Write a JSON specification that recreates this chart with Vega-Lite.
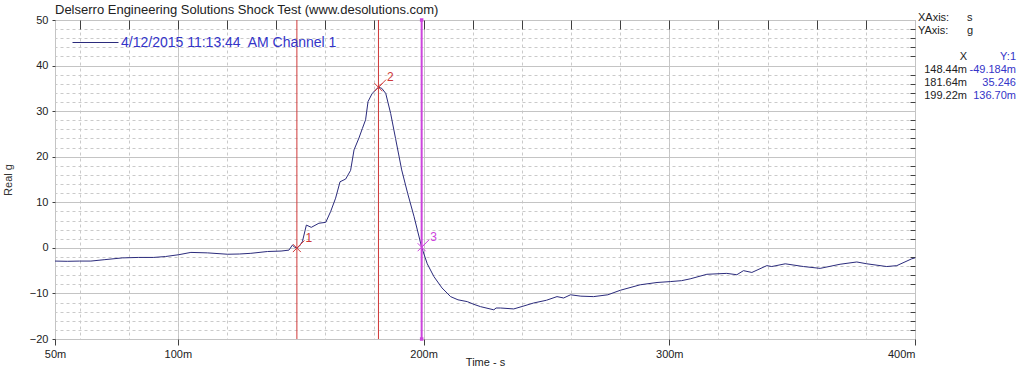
{
  "$schema": "https://vega.github.io/schema/vega-lite/v6.json",
  "autosize": {"type": "none"},
  "padding": {"left": 55, "top": 20, "right": 109, "bottom": 34},
  "width": 860,
  "height": 319,
  "background": "white",
  "config": {
    "font": "Liberation Sans",
    "view": {"stroke": "#808080"},
    "axis": {"labelFont": "Liberation Sans", "titleFont": "Liberation Sans"}
  },
  "title": {
    "text": "Delserro Engineering Solutions Shock Test (www.desolutions.com)",
    "anchor": "start",
    "frame": "group",
    "offset": -5,
    "fontSize": 13,
    "fontWeight": "normal",
    "color": "#222222",
    "font": "Liberation Sans"
  },
  "datasets": {
    "signal": [
      {"t": 50, "g": -2.9}, {"t": 55, "g": -2.95}, {"t": 60, "g": -2.9}, {"t": 64.6, "g": -2.9},
      {"t": 70, "g": -2.6}, {"t": 77.5, "g": -2.2}, {"t": 84, "g": -2.1}, {"t": 90.2, "g": -2.1},
      {"t": 95, "g": -1.9}, {"t": 100.4, "g": -1.5}, {"t": 105.3, "g": -1.0}, {"t": 112, "g": -1.1},
      {"t": 120.2, "g": -1.4}, {"t": 125, "g": -1.35}, {"t": 129.7, "g": -1.2}, {"t": 136.5, "g": -0.8},
      {"t": 142, "g": -0.7}, {"t": 145.2, "g": -0.5}, {"t": 146.6, "g": 0.6}, {"t": 147.4, "g": 0.2},
      {"t": 148.44, "g": -0.05}, {"t": 149.5, "g": 0.4}, {"t": 150.7, "g": 1.4}, {"t": 152.3, "g": 5.0},
      {"t": 154.3, "g": 4.5}, {"t": 157.4, "g": 5.4}, {"t": 160.2, "g": 5.6}, {"t": 162.2, "g": 8.0},
      {"t": 164.2, "g": 10.9}, {"t": 166, "g": 14.5}, {"t": 168.3, "g": 15.1}, {"t": 170.3, "g": 17.0},
      {"t": 171.7, "g": 21.5}, {"t": 173.7, "g": 24.1}, {"t": 175.1, "g": 26.2}, {"t": 176.4, "g": 28.1},
      {"t": 177.4, "g": 32.1}, {"t": 179.1, "g": 33.9}, {"t": 181.64, "g": 35.246}, {"t": 183, "g": 35.0},
      {"t": 184.6, "g": 33.9}, {"t": 186.6, "g": 29.5}, {"t": 188.6, "g": 24.0}, {"t": 191.1, "g": 17.1},
      {"t": 193.5, "g": 12.0}, {"t": 196.1, "g": 6.9}, {"t": 199.22, "g": 0.137}, {"t": 201.5, "g": -3.5},
      {"t": 204.2, "g": -6.3}, {"t": 207.5, "g": -8.8}, {"t": 211, "g": -10.7}, {"t": 214, "g": -11.4},
      {"t": 217.8, "g": -11.8}, {"t": 220.5, "g": -12.4}, {"t": 223.2, "g": -12.9}, {"t": 228.6, "g": -13.6},
      {"t": 229.5, "g": -13.2}, {"t": 231.3, "g": -13.2}, {"t": 236.7, "g": -13.4}, {"t": 240.5, "g": -12.8},
      {"t": 244.8, "g": -12.1}, {"t": 250, "g": -11.5}, {"t": 254.3, "g": -10.7}, {"t": 257, "g": -11.0},
      {"t": 259.8, "g": -10.3}, {"t": 264, "g": -10.6}, {"t": 269.2, "g": -10.7}, {"t": 275, "g": -10.3},
      {"t": 280.1, "g": -9.3}, {"t": 288.2, "g": -8.1}, {"t": 295, "g": -7.6}, {"t": 300.4, "g": -7.4},
      {"t": 305, "g": -7.2}, {"t": 308.5, "g": -6.8}, {"t": 315.3, "g": -5.8}, {"t": 323.4, "g": -5.6},
      {"t": 327.5, "g": -5.9}, {"t": 330.2, "g": -5.0}, {"t": 333.6, "g": -5.4}, {"t": 339.7, "g": -3.9},
      {"t": 341.7, "g": -4.1}, {"t": 347.2, "g": -3.5}, {"t": 354.6, "g": -4.1}, {"t": 361.4, "g": -4.5},
      {"t": 369.5, "g": -3.6}, {"t": 376.3, "g": -3.1}, {"t": 380.4, "g": -3.5}, {"t": 388.5, "g": -4.1},
      {"t": 392.6, "g": -3.9}, {"t": 398.7, "g": -2.4}, {"t": 400, "g": -2.2}
    ],
    "cursors": [
      {"id": 1, "t": 148.44, "g": -0.049},
      {"id": 2, "t": 181.64, "g": 35.246},
      {"id": 3, "t": 199.22, "g": 0.137}
    ],
    "panelLeft": [
      {"r": "r0", "c": "A", "txt": "XAxis:"}, {"r": "r0", "c": "B", "txt": "s"},
      {"r": "r1", "c": "A", "txt": "YAxis:"}, {"r": "r1", "c": "B", "txt": "g"}
    ],
    "panelRight": [
      {"r": "r3", "c": "B", "txt": "X"}, {"r": "r3", "c": "C", "txt": "Y:1"},
      {"r": "r4", "c": "B", "txt": "148.44m"}, {"r": "r4", "c": "C", "txt": "-49.184m"},
      {"r": "r5", "c": "B", "txt": "181.64m"}, {"r": "r5", "c": "C", "txt": "35.246"},
      {"r": "r6", "c": "B", "txt": "199.22m"}, {"r": "r6", "c": "C", "txt": "136.70m"}
    ]
  },
  "layer": [
    {
      "layer": [
        {
          "data": {"name": "signal"},
          "mark": {"type": "line", "strokeWidth": 1, "interpolate": "linear"},
          "encoding": {
            "x": {
              "field": "t", "type": "quantitative",
              "scale": {"domain": [50, 400], "nice": false, "zero": false},
              "axis": {
                "orient": "bottom",
                "values": [50, 100, 200, 300, 400],
                "labelExpr": "datum.value + 'm'",
                "labelAlign": {"condition": {"test": "datum.value >= 400", "value": "right"}, "value": "center"},
                "labelDx": {"condition": {"test": "datum.value >= 400", "value": -4}, "value": 0},
                "grid": true, "gridColor": "#c4c4c4", "gridWidth": 1,
                "domain": false,
                "ticks": true, "tickColor": "#404040", "tickSize": 6,
                "labelFontSize": 11, "labelColor": "#222222", "labelPadding": 3,
                "title": "Time - s", "titleFontSize": 11, "titleFontWeight": "normal",
                "titleColor": "#222222", "titlePadding": -3
              }
            },
            "y": {
              "field": "g", "type": "quantitative",
              "scale": {"domain": [-20, 50], "nice": false, "zero": false},
              "axis": {
                "orient": "left",
                "values": [-20, -10, 0, 10, 20, 30, 40, 50],
                "grid": true, "gridColor": "#c4c4c4", "gridWidth": 1,
                "domain": false,
                "tickColor": "#404040", "tickSize": 3,
                "labelFontSize": 11, "labelColor": "#222222", "labelPadding": 4,
                "title": "Real g", "titleFontSize": 11, "titleFontWeight": "normal",
                "titleColor": "#333333", "titlePadding": 16
              }
            },
            "color": {
              "datum": "4/12/2015 11:13:44\u00a0 AM Channel 1",
              "type": "nominal",
              "scale": {"range": ["#2b2b7c"]},
              "legend": {
                "orient": "none", "legendX": 17, "legendY": -1,
                "title": null, "padding": 0,
                "symbolType": "stroke", "symbolSize": 2116, "symbolStrokeWidth": 1,
                "symbolStrokeColor": "#2b2b7c",
                "labelFontSize": 14, "labelColor": "#3434c8", "labelFont": "Liberation Sans",
                "labelOffset": 2, "labelLimit": 400
              }
            }
          }
        },
        {
          "data": {"name": "cursors"},
          "mark": {"type": "rule"},
          "encoding": {
            "x": {
              "field": "t", "type": "quantitative",
              "axis": {
                "orient": "top",
                "values": [60, 80, 100, 120, 140, 160, 180, 200, 220, 240, 260, 280, 300, 320, 340, 360, 380],
                "grid": true, "gridColor": "#cacaca", "gridDash": [3, 3], "gridWidth": 1,
                "labels": false, "domain": false,
                "tickColor": "#404040", "tickSize": -9,
                "title": null
              }
            },
            "color": {"condition": {"test": "datum.id == 3", "value": "#cc44dd"}, "value": "#cf3838"},
            "strokeWidth": {"condition": {"test": "datum.id == 3", "value": 2}, "value": 1}
          }
        },
        {
          "data": {"name": "cursors"},
          "mark": {"type": "point", "shape": "M-1,-1L1,1M-1,1L1,-1M0,0L1.9,-1.9", "filled": false, "size": 64, "strokeWidth": 1, "opacity": 1},
          "encoding": {
            "x": {"field": "t", "type": "quantitative", "axis": null},
            "y": {
              "field": "g", "type": "quantitative",
              "axis": {
                "orient": "right",
                "values": [-18, -16, -14, -12, -8, -6, -4, -2, 2, 4, 6, 8, 12, 14, 16, 18, 22, 24, 26, 28, 32, 34, 36, 38, 42, 44, 46, 48],
                "grid": true, "gridColor": "#cacaca", "gridDash": [3, 3], "gridWidth": 1,
                "labels": false, "domain": false,
                "tickColor": "#404040", "tickSize": -5,
                "title": null
              }
            },
            "color": {"condition": {"test": "datum.id == 3", "value": "#cc44dd"}, "value": "#cf3838"}
          }
        },
        {
          "data": {"name": "cursors"},
          "transform": [{"filter": "datum.id == 3"}],
          "mark": {"type": "point", "shape": "square", "filled": true, "size": 12, "opacity": 1, "color": "#cc44dd"},
          "encoding": {
            "x": {"field": "t", "type": "quantitative", "axis": null},
            "y": {"datum": 50, "type": "quantitative", "axis": null}
          }
        },
        {
          "data": {"name": "cursors"},
          "transform": [{"filter": "datum.id == 3"}],
          "mark": {"type": "point", "shape": "square", "filled": true, "size": 12, "opacity": 1, "color": "#cc44dd"},
          "encoding": {
            "x": {"field": "t", "type": "quantitative", "axis": null},
            "y": {"datum": -20, "type": "quantitative", "axis": null}
          }
        },
        {
          "data": {"name": "cursors"},
          "mark": {"type": "text", "dx": 12, "dy": -10, "fontSize": 12, "align": "center", "baseline": "middle"},
          "encoding": {
            "x": {"field": "t", "type": "quantitative", "axis": null},
            "y": {"field": "g", "type": "quantitative", "axis": null},
            "text": {"field": "id", "type": "nominal"},
            "color": {"condition": {"test": "datum.id == 3", "value": "#cc44dd"}, "value": "#cf3838"}
          }
        }
      ],
      "resolve": {"axis": {"x": "independent", "y": "independent"}}
    },
    {
      "layer": [
        {
          "data": {"name": "panelLeft"},
          "mark": {"type": "text", "align": "left", "baseline": "middle", "fontSize": 11, "color": "#222222"},
          "encoding": {
            "x": {"field": "c", "type": "ordinal", "scale": {"type": "point", "domain": ["A", "B", "C"], "range": [863, 961], "padding": 0}, "axis": null},
            "y": {"field": "r", "type": "ordinal", "scale": {"type": "point", "domain": ["r0", "r1", "r2", "r3", "r4", "r5", "r6"], "range": [-2, 76], "padding": 0}, "axis": null},
            "text": {"field": "txt"}
          }
        },
        {
          "data": {"name": "panelRight"},
          "mark": {"type": "text", "align": "right", "baseline": "middle", "fontSize": 11},
          "encoding": {
            "x": {"field": "c", "type": "ordinal", "axis": null},
            "y": {"field": "r", "type": "ordinal", "axis": null},
            "text": {"field": "txt"},
            "color": {"condition": {"test": "datum.c == 'C'", "value": "#3434c8"}, "value": "#222222"}
          }
        }
      ]
    }
  ],
  "resolve": {"scale": {"x": "independent", "y": "independent"}}
}
